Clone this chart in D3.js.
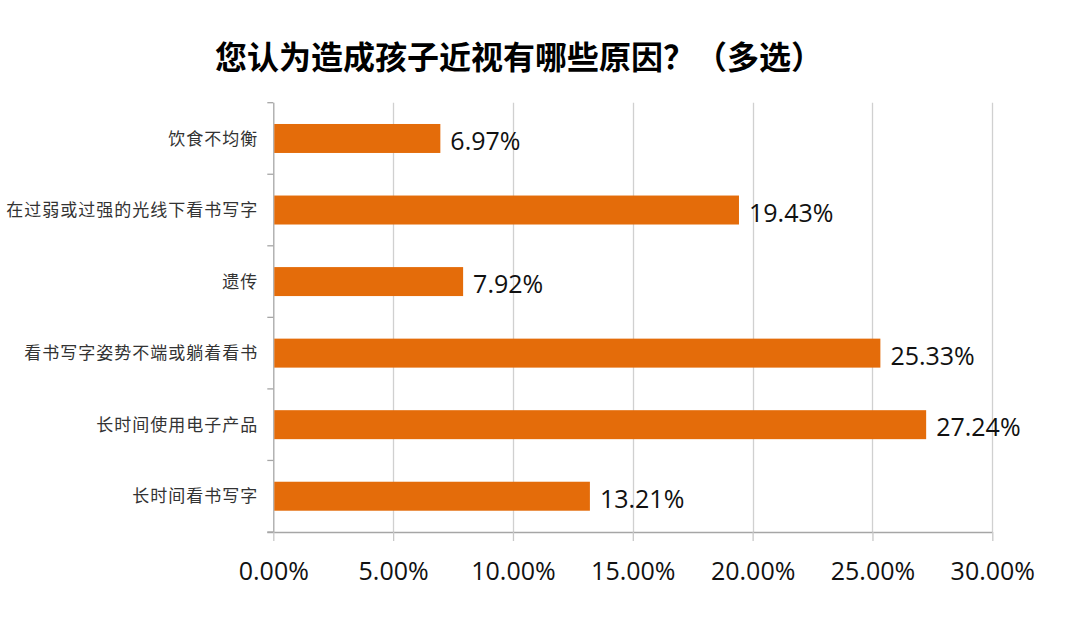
<!DOCTYPE html>
<html><head><meta charset="utf-8">
<script src="https://cdnjs.cloudflare.com/ajax/libs/d3/7.8.5/d3.min.js"></script>
<style>html,body{margin:0;padding:0;background:#fff;}svg{display:block;}</style>
</head><body><svg id="chart" width="1080" height="619"></svg>
<script>
const title = "您认为造成孩子近视有哪些原因？（多选）";
const categories = ["饮食不均衡","在过弱或过强的光线下看书写字","遗传","看书写字姿势不端或躺着看书","长时间使用电子产品","长时间看书写字"];
const values = [6.97, 19.43, 7.92, 25.33, 27.24, 13.21];
const xTicks = [0, 5, 10, 15, 20, 25, 30];

const svg = d3.select("#chart");
const pLeft = 273.3, pRight = 992.3, pTop = 102.7, pBottom = 532;
const x = d3.scaleLinear().domain([0, 30]).range([pLeft, pRight]);
const y = d3.scaleBand().domain(categories).range([pTop, pBottom]).paddingInner(0.595).paddingOuter(0.2975);

// title
svg.append("text").attr("x", 519).attr("y", 55).attr("text-anchor","middle")
  .attr("dominant-baseline","central")
  .attr("font-family","'Noto Sans CJK SC', sans-serif").attr("font-weight","bold")
  .attr("font-size", 32).attr("fill","#000").text(title);

// gridlines
svg.append("g").selectAll("line").data(xTicks.filter(d=>d>0)).join("line")
  .attr("x1", d=>Math.round(x(d))+0.5).attr("x2", d=>Math.round(x(d))+0.5)
  .attr("y1", pTop).attr("y2", pBottom).attr("stroke","#d0d0d0").attr("stroke-width",1.3);

// x axis
const xAxis = d3.axisBottom(x).tickValues(xTicks).tickSize(9).tickSizeOuter(0)
  .tickFormat(d => d3.format(".2f")(d) + "%");
const gx = svg.append("g").attr("transform", `translate(0,${pBottom})`).call(xAxis);
gx.select(".domain").attr("stroke","#a6a6a6").attr("stroke-width",1.3)
  .attr("d", `M${pLeft-6},0.5H${pRight}`);
gx.selectAll(".tick line").attr("stroke", "#c8c8c8").attr("stroke-width",1.3);
gx.selectAll(".tick text").attr("font-family","'Open Sans', sans-serif").attr("font-size",25)
  .attr("fill","#111").attr("dy", null).attr("y", 38).attr("dominant-baseline","central");

// y axis
const yAxis = d3.axisLeft(y).tickSize(0).tickPadding(15);
const gy = svg.append("g").attr("transform", `translate(${pLeft},0)`).call(yAxis);
gy.select(".domain").attr("stroke","#a6a6a6").attr("stroke-width",1.3).attr("d", `M0.5,${pTop}V${pBottom}`);
gy.selectAll(".tick text").attr("font-family","'Noto Sans CJK SC', sans-serif").attr("font-size",17)
  .attr("fill","#333").attr("letter-spacing","1px").attr("dy", "0.36em");
// boundary ticks
svg.append("g").selectAll("line").data(d3.range(categories.length+1)).join("line")
  .attr("x1", pLeft-6).attr("x2", pLeft)
  .attr("y1", i => pTop + i*(pBottom-pTop)/categories.length)
  .attr("y2", i => pTop + i*(pBottom-pTop)/categories.length)
  .attr("stroke","#a6a6a6").attr("stroke-width",1.3);

// bars
const data = categories.map((c,i)=>({c, v: values[i]}));
svg.append("g").selectAll("rect").data(data).join("rect")
  .attr("x", x(0)+1).attr("y", d=>y(d.c)).attr("width", d=>x(d.v)-x(0)-1)
  .attr("height", y.bandwidth()).attr("fill","#e46c0a");

// value labels
svg.append("g").selectAll("text").data(data).join("text")
  .attr("x", d=>x(d.v)+10).attr("y", d=>y(d.c)+y.bandwidth()/2+1.5)
  .attr("dominant-baseline","central")
  .attr("font-family","'Open Sans', sans-serif").attr("font-size",25).attr("fill","#111")
  .text(d=>d3.format(".2f")(d.v)+"%");
</script></body></html>
